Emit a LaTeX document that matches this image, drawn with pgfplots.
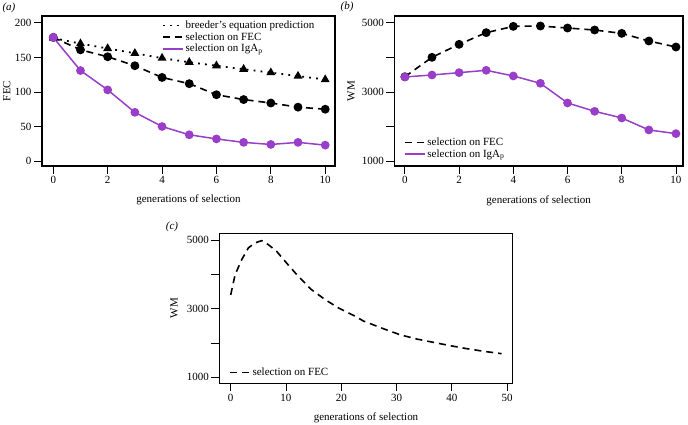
\documentclass[border=0pt]{standalone}
\usepackage{pgfplots}
\pgfplotsset{compat=1.18}
\usepackage{fontspec}
\setmainfont{Liberation Serif}
\definecolor{igapurple}{RGB}{152,62,200}

\pgfplotsset{
  panel/.style={
    scale only axis,
    anchor=south west,
    width=#1,
    height=150pt,
    /pgf/number format/assume math mode=true,
    /pgf/number format/1000 sep={},
    axis line style={draw=black, line width=1.3pt},
    every tick/.style={draw=black, line width=0.9pt},
    tick pos=left,
    tick align=inside, major tick length=-8pt, % ticks pointing out
    yticklabel style={xshift=-7pt},
    xticklabel style={yshift=-7pt},
    ticklabel style={font=\fontsize{11}{13}\selectfont},
    label style={font=\fontsize{11}{13}\selectfont},
    legend style={draw=none, fill=none, font=\fontsize{11}{13}\selectfont,
      anchor=north west, row sep=-1.5pt},
    legend image code/.code={\draw[##1] (0pt,0pt) -- (20pt,0pt);},
    legend cell align=left,
  },
  fecline/.style={black, line width=1.6pt, dash pattern=on 7pt off 5pt},
  breedline/.style={black, line width=1.8pt, dash pattern=on 1.8pt off 5.2pt},
  igaline/.style={igapurple, line width=1.5pt},
}

\begin{document}
\begin{tikzpicture}
\useasboundingbox (0pt,0pt) rectangle (688pt,425pt);

% (a) FEC
\begin{axis}[panel=293pt,
  at={(42pt,259pt)},
  xmin=-0.415, xmax=10.36, ymin=-7.2, ymax=210,
  xtick={0,2,...,10}, ytick={0,50,...,200},
  xlabel={generations of selection}, ylabel={FEC},
  xlabel style={at={(axis description cs:0.5,-0.227)}, anchor=center},
  ylabel style={at={(axis description cs:-0.12,0.5)}, anchor=center},
  legend style={at={(axis description cs:0.398,0.995)}},
]
\addlegendimage{breedline}
\addlegendentry{breeder's equation prediction}
\addlegendimage{fecline}
\addlegendentry{selection on FEC}
\addlegendimage{igaline}
\addlegendentry{selection on IgA\textsubscript{p}}
\addplot[breedline, forget plot, mark=triangle*, mark size=3.4pt, mark options={solid, black}] coordinates {
  (0,178) (1,170) (2,163) (3,156) (4,149) (5,143) (6,138) (7,133) (8,128) (9,123) (10,118)
};
\addplot[fecline, forget plot, mark=*, mark size=3.6pt, mark options={solid, black}] coordinates {
  (0,179) (1,161) (2,151) (3,138) (4,121) (5,112) (6,96) (7,89) (8,84) (9,78) (10,75)
};
\addplot[igaline, forget plot, mark=*, mark size=3.6pt, mark options={solid, fill=igapurple}] coordinates {
  (0,179) (1,131) (2,103) (3,70.5) (4,50) (5,38) (6,32) (7,27) (8,24) (9,27) (10,23)
};
\end{axis}

% (b) WM
\begin{axis}[panel=288.7pt,
  at={(394.3pt,259pt)},
  xmin=-0.39, xmax=10.26, ymin=864, ymax=5193,
  xtick={0,2,...,10}, ytick={1000,2000,...,5000},
  yticklabels={1000,,3000,,5000},
  xlabel={generations of selection}, ylabel={WM},
  xlabel style={at={(axis description cs:0.5,-0.233)}, anchor=center},
  ylabel style={at={(axis description cs:-0.15,0.5)}, anchor=center},
  legend style={at={(axis description cs:0.022,0.215)}},
]
\addlegendimage{fecline}
\addlegendentry{selection on FEC}
\addlegendimage{igaline}
\addlegendentry{selection on IgA\textsubscript{p}}
\addplot[fecline, forget plot, mark=*, mark size=3.6pt, mark options={solid, black}] coordinates {
  (0,3440) (1,4000) (2,4375) (3,4712) (4,4894) (5,4904) (6,4846) (7,4788) (8,4692) (9,4471) (10,4298)
};
\addplot[igaline, forget plot, mark=*, mark size=3.6pt, mark options={solid, fill=igapurple}] coordinates {
  (0,3433) (1,3490) (2,3558) (3,3625) (4,3462) (5,3250) (6,2683) (7,2442) (8,2250) (9,1904) (10,1798)
};
\end{axis}

% (c) WM, long run
\begin{axis}[panel=293.4pt,
  at={(219.3pt,41.7pt)},
  xmin=-2.06, xmax=51.0, ymin=825, ymax=5195,
  xtick={0,10,...,50}, ytick={1000,2000,...,5000},
  yticklabels={1000,,3000,,5000},
  xlabel={generations of selection}, ylabel={WM},
  xlabel style={at={(axis description cs:0.5,-0.233)}, anchor=center},
  ylabel style={at={(axis description cs:-0.154,0.5)}, anchor=center},
  legend style={at={(axis description cs:0.022,0.13)}},
]
\addlegendimage{fecline}
\addlegendentry{selection on FEC}
\addplot[fecline, forget plot] coordinates {
  (0,3400) (0.8,3990) (2,4430) (3.2,4770) (4.4,4915) (5.6,4980) (6.8,4865)
  (8.3,4670) (10.1,4330) (12.2,3945) (14.6,3555) (17.1,3260) (19.5,3020)
  (22.5,2780) (24,2640) (27.6,2416) (30.6,2241) (33.6,2116) (36.6,2020)
  (39.7,1921) (42.7,1834) (45.7,1758) (49,1688)
};
\end{axis}

\node[font=\fontsize{11}{13}\selectfont\itshape] at (9pt,417pt) {(a)};
\node[font=\fontsize{11}{13}\selectfont\itshape] at (347pt,418pt) {(b)};
\node[font=\fontsize{11}{13}\selectfont\itshape] at (172pt,198pt) {(c)};
\end{tikzpicture}
\end{document}
